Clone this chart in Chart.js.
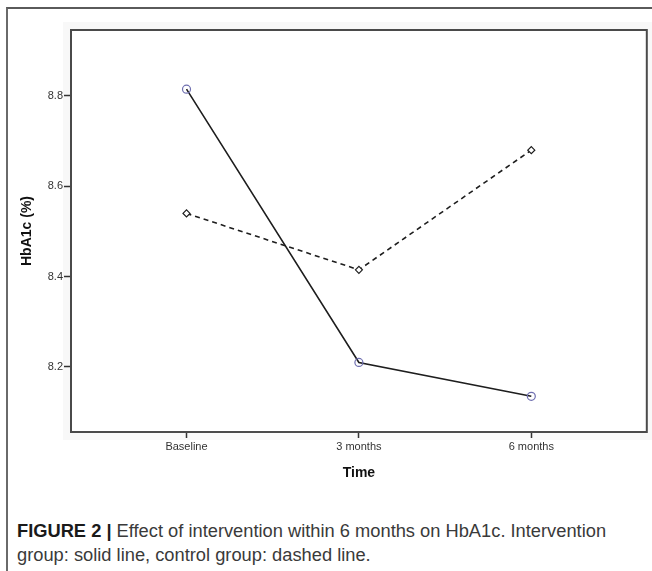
<!DOCTYPE html>
<html>
<head>
<meta charset="utf-8">
<script src="https://cdn.jsdelivr.net/npm/chart.js@4.4.1/dist/chart.umd.min.js"></script>
<style>
  html, body { margin: 0; padding: 0; background: #fff; }
  body { width: 652px; height: 571px; position: relative; overflow: hidden; }
  #frame { position: absolute; left: 6px; top: 7px; width: 700px; height: 600px;
           border-left: 2px solid #6a6a6a; border-top: 2px solid #5a5a5a; }
  #wrap { position: absolute; left: 0; top: 0; width: 652px; height: 490px; }
  #caption { position: absolute; left: 17px; top: 519px; width: 625px;
             font-family: "Liberation Sans", Arial, sans-serif; font-size: 18.3px;
             line-height: 24px; color: #3a3a3a; }
  #caption b { color: #1a1a1a; }
</style>
</head>
<body>
<div id="frame"></div>
<div id="wrap"><canvas id="c" width="652" height="490"></canvas></div>
<div id="caption"><b>FIGURE 2 |</b> Effect of intervention within 6 months on HbA1c. Intervention group: solid line, control group: dashed line.</div>
<script>
const categories = ['Baseline', '3 months', '6 months'];
const intervention = [8.815, 8.21, 8.135];
const control = [8.54, 8.415, 8.68];
const yTicks = [8.2, 8.4, 8.6, 8.8];

const toPoints = arr => arr.map((v, i) => ({ x: i, y: v }));

const boxPlugin = {
  id: 'box',
  beforeDraw(chart) {
    const ctx = chart.ctx;
    ctx.save();
    ctx.fillStyle = '#f8f8f8';
    ctx.fillRect(63, 22, 589, 418);
    const a = chart.chartArea;
    ctx.fillStyle = '#ffffff';
    ctx.fillRect(a.left, a.top, a.right - a.left, a.bottom - a.top);
    ctx.restore();
  },
  afterDatasetsDraw(chart) {
    const ctx = chart.ctx;
    const a = chart.chartArea;
    ctx.save();
    ctx.strokeStyle = '#4a4a4a';
    ctx.lineWidth = 2;
    ctx.strokeRect(a.left, a.top, a.right - a.left, a.bottom - a.top);
    ctx.restore();
  }
};

new Chart(document.getElementById('c'), {
  type: 'line',
  data: {
    datasets: [
      {
        label: 'Intervention',
        data: toPoints(intervention),
        borderColor: '#1e1e1e',
        borderWidth: 1.6,
        pointStyle: 'circle',
        pointRadius: 4,
        pointBorderWidth: 1.2,
        pointBorderColor: '#6f6fb0',
        pointBackgroundColor: 'rgba(255,255,255,0)',
        tension: 0
      },
      {
        label: 'Control',
        data: toPoints(control),
        borderColor: '#1e1e1e',
        borderWidth: 1.6,
        borderDash: [5, 4],
        pointStyle: 'rectRot',
        pointRadius: 3.5,
        pointBorderWidth: 1.2,
        pointBorderColor: '#1e1e1e',
        pointBackgroundColor: '#ffffff',
        tension: 0
      }
    ]
  },
  options: {
    responsive: false,
    animation: false,
    layout: { padding: { left: 0, top: 30, right: 3, bottom: 0 } },
    plugins: { legend: { display: false }, tooltip: { enabled: false } },
    scales: {
      x: {
        type: 'linear',
        min: -0.67,
        max: 2.67,
        afterBuildTicks: s => { s.ticks = categories.map((c, i) => ({ value: i })); },
        afterFit: s => { s.height = 58; },
        grid: { display: true, drawOnChartArea: false, drawTicks: true, tickLength: 6, tickColor: '#333', tickWidth: 1.5 },
        border: { display: false },
        ticks: {
          callback: v => categories[v],
          font: { family: 'Liberation Sans, Arial, sans-serif', size: 11 },
          color: '#333', padding: 2, maxRotation: 0, autoSkip: false
        },
        title: {
          display: true, text: 'Time',
          font: { family: 'Liberation Sans, Arial, sans-serif', size: 14, weight: 'bold' },
          color: '#111', padding: { top: 0, bottom: 8 }
        }
      },
      y: {
        type: 'linear',
        min: 8.056,
        max: 8.946,
        afterBuildTicks: s => { s.ticks = yTicks.map(v => ({ value: v })); },
        afterFit: s => { s.width = 71; },
        grid: { display: true, drawOnChartArea: false, drawTicks: true, tickLength: 7, tickColor: '#333', tickWidth: 1.5 },
        border: { display: false },
        ticks: {
          callback: v => v.toFixed(1),
          font: { family: 'Liberation Sans, Arial, sans-serif', size: 11 },
          color: '#333', padding: 1
        },
        title: {
          display: true, text: 'HbA1c (%)',
          font: { family: 'Liberation Sans, Arial, sans-serif', size: 14, weight: 'bold' },
          color: '#111', padding: { top: 19, bottom: 0 }
        }
      }
    }
  },
  plugins: [boxPlugin]
});
</script>
</body>
</html>
